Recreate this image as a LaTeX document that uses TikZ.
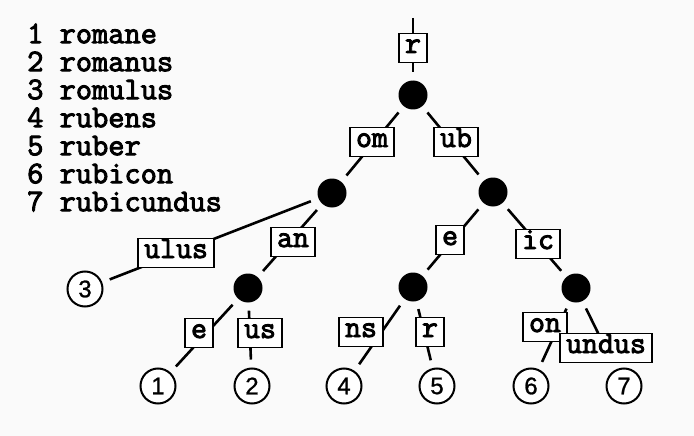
\documentclass[tikz,border=0pt]{standalone}
\usepackage{fontspec}
\setmainfont{Liberation Sans}
\newfontfamily\courb{Latin Modern Mono}[FakeBold=3]
\newfontfamily\digfont{Liberation Sans}[FakeBold=1]
\begin{document}
\begin{tikzpicture}[x=1pt,y=-1pt,
  wordtxt/.style={font=\courb\fontsize{31.5}{28}\selectfont, anchor=north west, inner sep=0, align=left},
  lbl/.style={draw, line width=1.6pt, fill=white, font=\courb\fontsize{31}{28}\selectfont,
     text height=14pt, text depth=4pt, inner xsep=6pt, inner ysep=5.5pt},
  inner/.style={circle, fill=black, minimum size=29pt, inner sep=0},
  leaf/.style={circle, draw, line width=2pt, fill=white, minimum size=35pt, inner sep=0,
     font=\digfont\fontsize{24}{24}\selectfont},
  edge/.style={line width=2.6pt, shorten <=8pt, shorten >=8pt}]
\fill[fill={rgb,255:red,250;green,250;blue,250}] (0,0) rectangle (694,436);
\useasboundingbox (0,0) rectangle (694,436);
% word list
\node[wordtxt] (words) at (27,23) {\rule{0pt}{20pt}1 romane\\2 romanus\\3 romulus\\4 rubens\\5 ruber\\6 rubicon\\7 rubicundus};
% tree nodes
\coordinate (top) at (413,18);
\node[inner] (n0) at (413,95) {};
\node[inner] (nL) at (332,193) {};
\node[inner] (nR) at (493,192) {};
\node[inner] (nLL) at (248,288) {};
\node[inner] (nRL) at (413,287) {};
\node[inner] (nRR) at (576,288) {};
\node[leaf] (c1) at (158,386) {1};
\node[leaf] (c2) at (252,386) {2};
\node[leaf] (c3) at (85,289) {3};
\node[leaf] (c4) at (344,386) {4};
\node[leaf] (c5) at (437,386) {5};
\node[leaf] (c6) at (531,386) {6};
\node[leaf] (c7) at (624,386) {7};
% edges
\draw[line width=2.6pt, shorten >=8pt] (top) -- (n0);
\draw[edge] (n0) -- (nL);
\draw[edge] (n0) -- (nR);
\draw[edge] (nL) -- (c3);
\draw[edge] (nL) -- (nLL);
\draw[edge] (nLL) -- (c1);
\draw[edge] (nLL) -- (c2);
\draw[edge] (nR) -- (nRL);
\draw[edge] (nR) -- (nRR);
\draw[edge] (nRL) -- (c4);
\draw[edge] (nRL) -- (c5);
\draw[edge] (nRR) -- (c6);
\draw[edge] (nRR) -- (c7);
% labels
\node[lbl] (lr) at (413,48) {r};
\node[lbl] (lom) at (372,142) {om};
\node[lbl] (lub) at (456,142) {ub};
\node[lbl] (lulus) at (176,253) {ulus};
\node[lbl] (lan) at (293,242) {an};
\node[lbl] (le1) at (199,333) {e};
\node[lbl] (lus) at (260,333) {us};
\node[lbl] (le2) at (450,240) {e};
\node[lbl] (lic) at (538,244) {ic};
\node[lbl] (lns) at (361,332) {ns};
\node[lbl] (lr2) at (430,332) {r};
\node[lbl] (lon) at (545,327) {on};
\node[lbl] (lundus) at (606,348) {undus};
\end{tikzpicture}
\end{document}
